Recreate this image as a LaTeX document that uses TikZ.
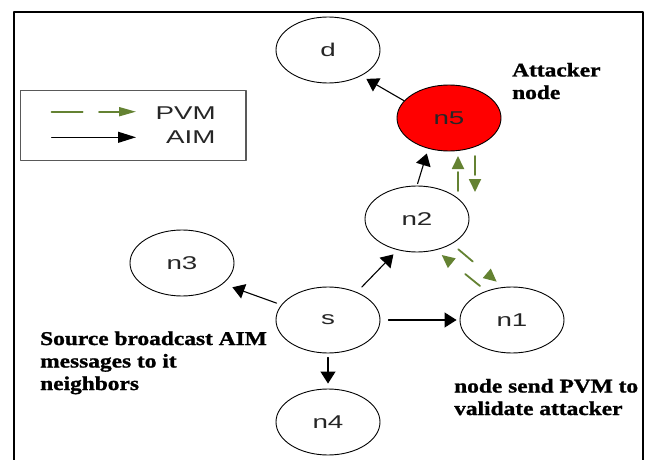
\documentclass[tikz,border=0pt]{standalone}
\usepackage{fontspec}
\newfontfamily\lblfont[FakeStretch=1.5]{Liberation Sans}
\newfontfamily\notefont[FakeStretch=1.2,FakeBold=1.2]{Liberation Serif}
\usetikzlibrary{shapes.geometric,arrows.meta}
\definecolor{pvmgreen}{RGB}{100,130,50}
\definecolor{attackred}{RGB}{255,0,0}

\begin{document}
\begin{tikzpicture}[line cap=round,line join=round,x=1pt,y=1pt,
  station/.style={ellipse,draw,line width=0.9pt,minimum width=104pt,minimum height=66pt,inner sep=0pt,text=black!85,font=\lblfont\fontsize{18.5}{22}\selectfont},
  aim/.style={-{Triangle[length=12pt,width=15pt]},line width=1.1pt},
  pvm/.style={-{Triangle[length=13pt,width=12pt]},line width=1.8pt,color=pvmgreen,dash pattern=on 19pt off 30pt},
  note/.style={anchor=base west,align=left,inner sep=0pt,font=\notefont\bfseries\fontsize{19.5}{22.5}\selectfont},
  legtext/.style={text=black!85,inner sep=0pt,font=\lblfont\fontsize{18.5}{22}\selectfont}]
\clip (0,0) rectangle (646,459);
% outer frame
\draw [line width=2pt] (13.5,-5) rectangle (642.5,446.7);
% legend
\draw [line width=1.5pt,draw=black!65] (20.6,298.7) rectangle (246,368.3);
\node [legtext] (pvmtxt) at (185.6,345.7) {PVM};
\node [legtext] (aimtxt) at (190.8,322.3) {AIM};
\coordinate (pvmtail) at (51.6,347.3);
\coordinate (pvmhead) at (136,347.3);
\coordinate (aimtail) at (51.6,321.7);
\coordinate (aimhead) at (136,321.7);
\draw [pvm,line width=1.8pt,dash pattern=on 31pt off 16.5pt,-{Triangle[length=17pt,width=9pt]}] (pvmtail) -- (pvmhead);
\draw [line width=1.2pt,-{Triangle[length=18pt,width=11pt]}] (aimtail) -- (aimhead);
% nodes
\node [station] (d) at (328,409) {d};
\node [station,fill=attackred] (n5) at (449,341) {n5};
\node [station] (n2) at (417,240) {n2};
\node [station] (n3) at (182,196) {n3};
\node [station] (s) at (328,139) {s};
\node [station] (n1) at (512,139) {n1};
\node [station] (n4) at (328,37) {n4};
% AIM messages
\draw [aim,shorten >=6pt] (n5.159) -- (d.-38);
\draw [aim,shorten <=2pt,shorten >=5pt] (n2.north) -- (n5.236);
\draw [aim,shorten <=7pt,shorten >=6pt] (s.44) -- (n2.238);
\draw [aim,shorten <=5pt,shorten >=10pt] (s.162) -- (n3.-27);
\draw [aim,shorten <=8pt,shorten >=3pt] (s.east) -- (n1.west);
\draw [aim,shorten <=4pt,shorten >=5pt] (s.south) -- (n4.north);
% PVM messages
\draw [pvm] ([xshift=41pt,yshift=28pt]n2.center) -- ([xshift=9pt,yshift=-38pt]n5.center);
\draw [pvm] ([xshift=26pt,yshift=-38pt]n5.center) -- ([xshift=58pt,yshift=27pt]n2.center);
\draw [pvm] ([xshift=-32pt,yshift=34pt]n1.center) -- ([xshift=24.7pt,yshift=-36pt]n2.center);
\draw [pvm] ([xshift=41.3pt,yshift=-30.3pt]n2.center) -- ([xshift=-15.3pt,yshift=38.3pt]n1.center);
% notes (base = last line)
\node [note] (attnote) at (512,360) {Attacker\\node};
\node [note] (srcnote) at (40,69) {Source broadcast AIM\\messages to it\\neighbors};
\node [note] (pvmnote) at (454,44) {node send PVM to\\validate attacker};
\end{tikzpicture}
\end{document}
